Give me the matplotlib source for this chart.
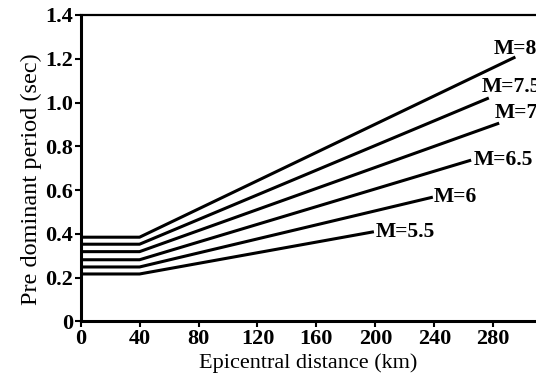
import matplotlib
matplotlib.use('Agg')
import matplotlib.pyplot as plt

# each line: flat from 0 to 40 km, then straight up to its end point
x_flat = [0, 40]
magnitudes = ['M=8', 'M=7.5', 'M=7', 'M=6.5', 'M=6', 'M=5.5']
flat_period = [0.385, 0.353, 0.319, 0.282, 0.249, 0.217]
end_dist = [295, 277, 284, 265, 239, 199]
end_period = [1.208, 1.021, 0.906, 0.737, 0.568, 0.410]

x_ticks = [0, 40, 80, 120, 160, 200, 240, 280]
y_ticks = [0, 0.2, 0.4, 0.6, 0.8, 1.0, 1.2, 1.4]
y_labels = ['0', '0.2', '0.4', '0.6', '0.8', '1.0', '1.2', '1.4']

plt.rcParams['font.family'] = ['Liberation Serif', 'DejaVu Serif']

fig = plt.figure(figsize=(5.36, 3.83), dpi=100)
ax = fig.add_axes([0.1504, 0.1606, 0.8496, 0.8003])

# label offsets in pixels (left edge, vertical centre) from line end
offsets = [(-22, 8), (-7, 11), (-4, 10), (3, 0), (1, 0), (2, 0)]

for name, p0, xe, pe, off in zip(magnitudes, flat_period, end_dist, end_period, offsets):
    ax.plot(x_flat + [xe], [p0, p0, pe], color='black', lw=2.2, solid_capstyle='butt')
    ax.annotate(name, (xe, pe), xytext=off, textcoords='offset pixels',
                ha='left', va='center', fontsize=15.5, fontweight='bold')

ax.set_xlim(0, 309)
ax.set_ylim(0, 1.4)
ax.set_xticks(x_ticks)
ax.set_yticks(y_ticks)
ax.set_yticklabels(y_labels)
for lab in ax.get_xticklabels() + ax.get_yticklabels():
    lab.set_fontweight('bold')
ax.tick_params(axis='both', labelsize=16, width=1.5, length=4, pad=1.5)

ax.spines['right'].set_visible(False)
for s in ['left', 'bottom']:
    ax.spines[s].set_linewidth(2.2)
ax.spines['top'].set_linewidth(1.6)

ax.set_xlabel('Epicentral distance (km)', fontsize=16, labelpad=3)
ax.set_ylabel('Pre dominant period (sec)', fontsize=17.5)
ax.yaxis.set_label_coords(-0.085, 0.465)

fig.savefig('out.png', dpi=100)
